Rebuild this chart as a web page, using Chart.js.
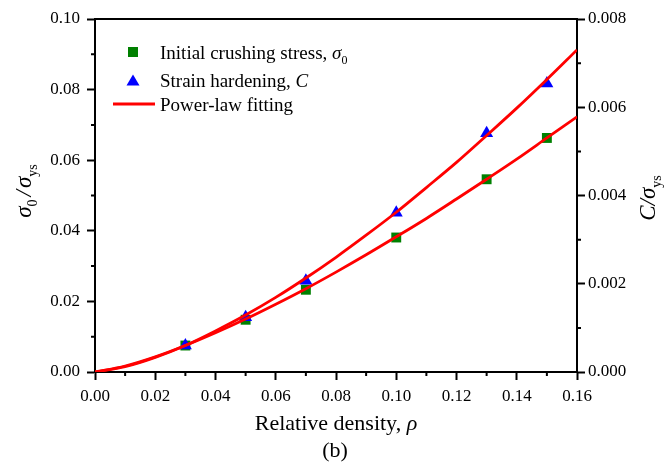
<!DOCTYPE html>
<html>
<head>
<meta charset="utf-8">
<script src="https://cdn.jsdelivr.net/npm/chart.js@4"></script>
<style>
  body { margin: 0; background: #fff; }
  #wrap { width: 665px; height: 467px; }
</style>
</head>
<body>
<div id="wrap"><canvas id="densityChart" width="665" height="467"></canvas></div>
<script>
// relative density of the samples
var density = [0.03, 0.05, 0.07, 0.10, 0.13, 0.15];
// initial crushing stress sigma0/sigma_ys (left axis)
var sigmaValues = [0.0075, 0.0148, 0.0233, 0.0381, 0.0546, 0.0663];
// strain hardening C/sigma_ys (right axis)
var hardeningValues = [0.0006, 0.00124, 0.00207, 0.00361, 0.00541, 0.00654];

// power-law fitting curves
var fitDensity = [0, 0.01, 0.02, 0.03, 0.04, 0.05, 0.06, 0.07, 0.08, 0.09, 0.10, 0.11, 0.12, 0.13, 0.14, 0.15, 0.16];
var fitSigma = [0, 0.0017, 0.0043, 0.0075, 0.0111, 0.0150, 0.0192, 0.0236, 0.0283, 0.0332, 0.0383, 0.0435, 0.0490, 0.0546, 0.0603, 0.0663, 0.0723];
var fitHardening = [0, 0.00012, 0.00033, 0.00060, 0.00093, 0.00129, 0.00169, 0.00213, 0.00260, 0.00310, 0.00362, 0.00418, 0.00475, 0.00536, 0.00598, 0.00663, 0.00730];

// tick labels
var xTicks = ["0.00", "0.02", "0.04", "0.06", "0.08", "0.10", "0.12", "0.14", "0.16"];
var yTicks = ["0.00", "0.02", "0.04", "0.06", "0.08", "0.10"];
var y2Ticks = ["0.000", "0.002", "0.004", "0.006", "0.008"];

var serif = "'Liberation Serif', 'Times New Roman', serif";

function toPoints(xs, ys) {
   var pts = [];
   for (let i = 0; i < xs.length; i++) {
      pts.push({ x: xs[i], y: ys[i] });
   }
   return pts;
}

// draws a text run with italic/subscript parts, returns end x
function drawRuns(ctx, runs, x, y, size) {
   for (let i = 0; i < runs.length; i++) {
      var r = runs[i];
      var s = r.sub ? Math.round(size * 0.62) : size;
      ctx.font = (r.italic ? "italic " : "") + s + "px " + serif;
      ctx.fillText(r.t, x, y + (r.sub ? size * 0.28 : 0));
      x += ctx.measureText(r.t).width + (r.gap || 0);
   }
   return x;
}
function runsWidth(ctx, runs, size) {
   var w = 0;
   for (let i = 0; i < runs.length; i++) {
      var r = runs[i];
      var s = r.sub ? Math.round(size * 0.62) : size;
      ctx.font = (r.italic ? "italic " : "") + s + "px " + serif;
      w += ctx.measureText(r.t).width + (r.gap || 0);
   }
   return w;
}

var extras = {
   id: "extras",
   afterDraw: function (chart) {
      var ctx = chart.ctx;
      var area = chart.chartArea;
      var sx = chart.scales.x, sy = chart.scales.y, sy2 = chart.scales.y2;
      ctx.save();
      ctx.strokeStyle = "#000";
      ctx.lineWidth = 2;
      // top frame line
      ctx.beginPath();
      ctx.moveTo(area.left - 1, area.top);
      ctx.lineTo(area.right + 1, area.top);
      ctx.stroke();
      // minor ticks
      ctx.beginPath();
      for (let v = 1; v < 16; v += 2) {
         var px = sx.getPixelForValue(v / 100);
         ctx.moveTo(px, area.bottom);
         ctx.lineTo(px, area.bottom + 4);
      }
      for (let v = 1; v < 10; v += 2) {
         var py = sy.getPixelForValue(v / 100);
         ctx.moveTo(area.left, py);
         ctx.lineTo(area.left - 4, py);
      }
      for (let v = 1; v < 8; v += 2) {
         var py2 = sy2.getPixelForValue(v / 1000);
         ctx.moveTo(area.right, py2);
         ctx.lineTo(area.right + 4, py2);
      }
      ctx.stroke();

      ctx.fillStyle = "#000";
      ctx.textBaseline = "alphabetic";
      ctx.textAlign = "left";

      // legend
      var lx = 133;
      ctx.fillStyle = "#008000";
      ctx.fillRect(lx - 5, 47, 10, 10);
      ctx.fillStyle = "#0000ff";
      ctx.beginPath();
      ctx.moveTo(lx, 74.5);
      ctx.lineTo(lx + 6.5, 85.5);
      ctx.lineTo(lx - 6.5, 85.5);
      ctx.closePath();
      ctx.fill();
      ctx.strokeStyle = "#ff0000";
      ctx.lineWidth = 2.8;
      ctx.beginPath();
      ctx.moveTo(113, 104);
      ctx.lineTo(155, 104);
      ctx.stroke();
      ctx.fillStyle = "#000";
      drawRuns(ctx, [{ t: "Initial crushing stress, " }, { t: "\u03c3", italic: true }, { t: "0", sub: true }], 160, 59, 19);
      drawRuns(ctx, [{ t: "Strain hardening, " }, { t: "C", italic: true }], 160, 87, 19);
      drawRuns(ctx, [{ t: "Power-law fitting" }], 160, 111, 19);

      // x title and panel label
      var xr = [{ t: "Relative density, " }, { t: "\u03c1", italic: true }];
      var xw = runsWidth(ctx, xr, 22);
      drawRuns(ctx, xr, (area.left + area.right) / 2 - xw / 2, 430, 22);
      ctx.font = "22px " + serif;
      ctx.textAlign = "center";
      ctx.fillText("(b)", 335, 457);
      ctx.textAlign = "left";

      // left title
      var lr = [{ t: "\u03c3", italic: true }, { t: "0", sub: true, gap: 3 }, { t: "/", italic: true, gap: 2 }, { t: "\u03c3", italic: true }, { t: "ys", sub: true }];
      var lw = runsWidth(ctx, lr, 23);
      ctx.save();
      ctx.translate(31, 191);
      ctx.rotate(-Math.PI / 2);
      drawRuns(ctx, lr, -lw / 2, 0, 23);
      ctx.restore();

      // right title
      var rr = [{ t: "C", italic: true }, { t: "/", italic: true }, { t: "\u03c3", italic: true }, { t: "ys", sub: true }];
      var rw = runsWidth(ctx, rr, 23);
      ctx.save();
      ctx.translate(655, 198);
      ctx.rotate(-Math.PI / 2);
      drawRuns(ctx, rr, -rw / 2, 0, 23);
      ctx.restore();

      ctx.restore();
   },
};

function axisGrid() {
   return {
      display: true,
      drawOnChartArea: false,
      drawTicks: true,
      tickLength: 8,
      tickColor: "#000",
      tickWidth: 2,
   };
}

var ctx = document.getElementById("densityChart").getContext("2d");
var chart = new Chart(ctx, {
   type: "scatter",
   data: {
      datasets: [
         {
            label: "fit sigma",
            data: toPoints(fitDensity, fitSigma),
            yAxisID: "y",
            showLine: true,
            borderColor: "#ff0000",
            borderWidth: 2.8,
            pointRadius: 0,
            cubicInterpolationMode: "monotone",
            order: 0,
         },
         {
            label: "fit C",
            data: toPoints(fitDensity, fitHardening),
            yAxisID: "y2",
            showLine: true,
            borderColor: "#ff0000",
            borderWidth: 2.8,
            pointRadius: 0,
            cubicInterpolationMode: "monotone",
            order: 0,
         },
         {
            label: "Strain hardening, C",
            data: toPoints(density, hardeningValues),
            yAxisID: "y2",
            pointStyle: "triangle",
            pointRadius: 7.5,
            backgroundColor: "#0000ff",
            borderColor: "#0000ff",
            borderWidth: 0,
            order: 1,
         },
         {
            label: "Initial crushing stress",
            data: toPoints(density, sigmaValues),
            yAxisID: "y",
            pointStyle: "rect",
            pointRadius: 7,
            backgroundColor: "#008000",
            borderColor: "#008000",
            borderWidth: 0,
            order: 2,
         },
      ],
   },
   options: {
      responsive: false,
      animation: false,
      devicePixelRatio: 1,
      layout: { padding: { top: 19, left: 0, right: 0, bottom: 0 } },
      plugins: {
         legend: { display: false },
         tooltip: { enabled: false },
      },
      scales: {
         x: {
            type: "linear",
            min: 0,
            max: 0.16,
            grid: axisGrid(),
            border: { display: true, color: "#000", width: 2 },
            ticks: {
               stepSize: 0.02,
               color: "#000",
               padding: 6,
               maxRotation: 0,
               font: { family: serif, size: 17 },
               callback: function (v) {
                  return xTicks[Math.round(v / 0.02)];
               },
            },
            afterFit: function (scale) {
               scale.height = 95;
            },
         },
         y: {
            type: "linear",
            position: "left",
            min: 0,
            max: 0.1,
            grid: axisGrid(),
            border: { display: true, color: "#000", width: 2 },
            ticks: {
               stepSize: 0.02,
               color: "#000",
               padding: 7,
               font: { family: serif, size: 17 },
               callback: function (v) {
                  return yTicks[Math.round(v / 0.02)];
               },
            },
            afterFit: function (scale) {
               scale.width = 95;
            },
         },
         y2: {
            type: "linear",
            position: "right",
            min: 0,
            max: 0.008,
            grid: axisGrid(),
            border: { display: true, color: "#000", width: 2 },
            ticks: {
               stepSize: 0.002,
               color: "#000",
               padding: 3,
               font: { family: serif, size: 17 },
               callback: function (v) {
                  return y2Ticks[Math.round(v / 0.002)];
               },
            },
            afterFit: function (scale) {
               scale.width = 88;
            },
         },
      },
   },
   plugins: [extras],
});
</script>
</body>
</html>
